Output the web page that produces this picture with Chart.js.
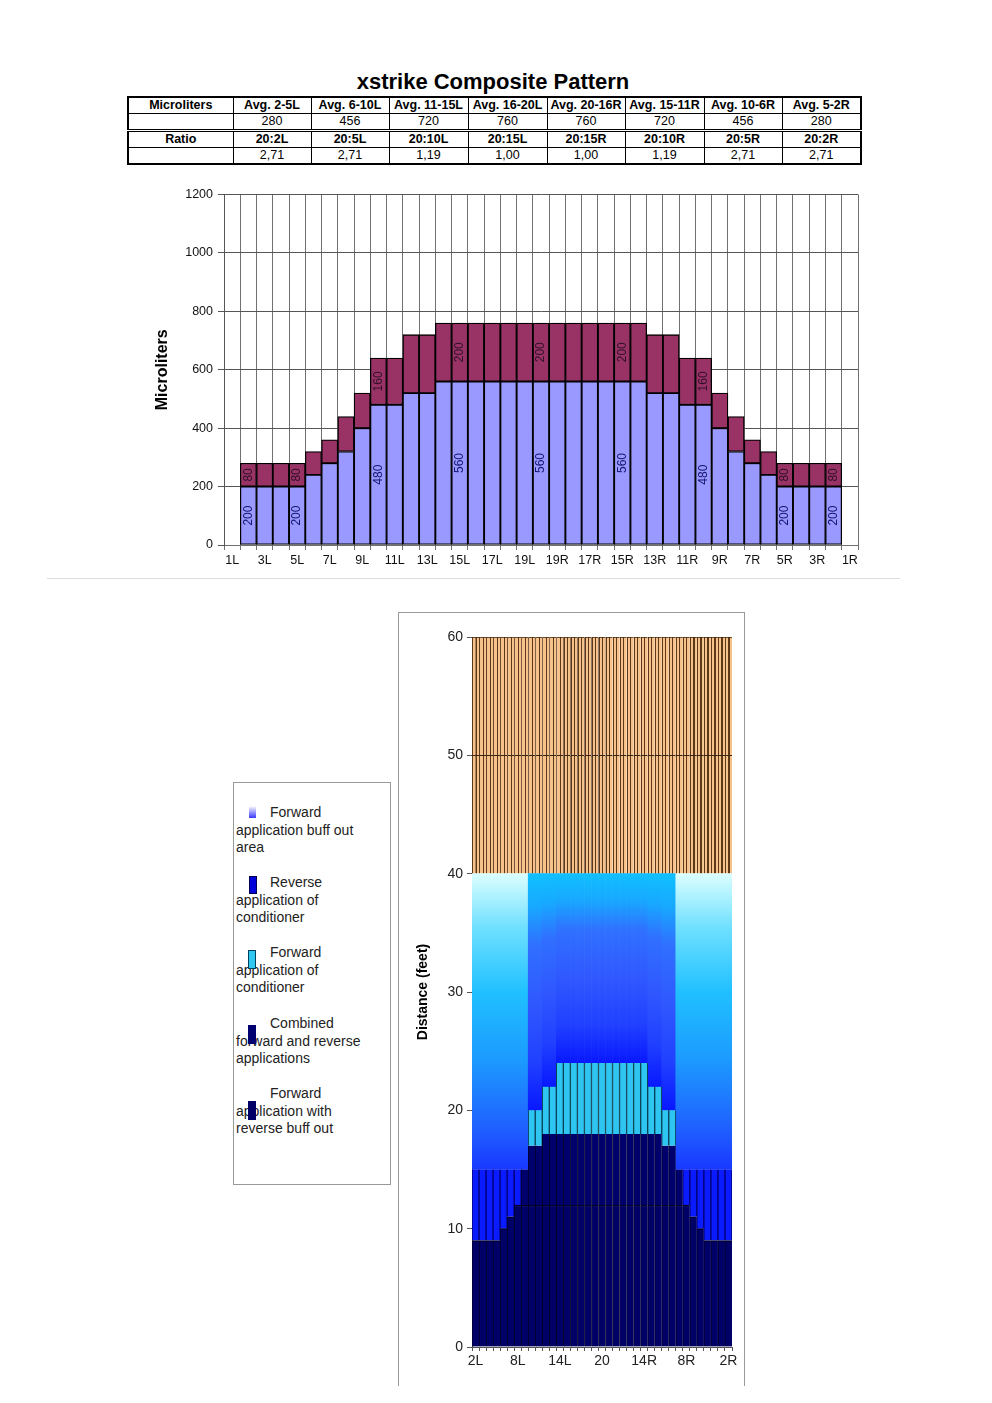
<!DOCTYPE html>
<html>
<head>
<meta charset="utf-8">
<script src="https://cdn.jsdelivr.net/npm/chart.js@4.4.1/dist/chart.umd.min.js"></script>
<style>
body { margin:0; background:#fff; font-family:"Liberation Sans", Arial, sans-serif; color:#000; }
#page { position:relative; width:992px; height:1403px; overflow:hidden; }
#title { position:absolute; left:0; width:986px; top:69px; text-align:center; font-weight:bold; font-size:22px; }
#tbl { position:absolute; left:127px; top:96px; border-collapse:collapse; table-layout:fixed; border:2px solid #000; font-size:12.5px; }
#tbl td { border:1px solid #000; text-align:center; padding:0; height:15px; line-height:15px; white-space:nowrap; }
#tbl tr.bold td { font-weight:bold; }
#tbl tr.r3 td { border-top:3px double #000; }
#sep { position:absolute; left:47px; top:578px; width:853px; height:1px; background:#ddd; }
#topChart { position:absolute; left:140px; top:182px; }
#legendBox { position:absolute; left:233px; top:782px; width:156px; height:401px; border:1px solid #999; }
.entry { position:absolute; left:2px; font-size:14px; line-height:17.5px; color:#222; }
.entry .first { padding-left:34px; }
.sw { position:absolute; width:8px; }
#box2 { position:absolute; left:398px; top:612px; width:345px; height:773px; border:1px solid #999; border-bottom:none; }
#bottomChart { position:absolute; left:400px; top:614px; }
</style>
</head>
<body>
<div id="page">
  <div id="title">xstrike Composite Pattern</div>
  <table id="tbl"></table>
  <canvas id="topChart" width="730" height="388"></canvas>
  <div id="sep"></div>

  <div id="legendBox">
    <div class="entry" style="top:21px"><div class="first">Forward</div>application buff out<br>area</div>
    <div class="entry" style="top:91px"><div class="first">Reverse</div>application of<br>conditioner</div>
    <div class="entry" style="top:161px"><div class="first">Forward</div>application of<br>conditioner</div>
    <div class="entry" style="top:232px"><div class="first">Combined</div>forward and reverse<br>applications</div>
    <div class="entry" style="top:302px"><div class="first">Forward</div>application with<br>reverse buff out</div>
  </div>
  <div class="sw" style="left:249px;top:806px;height:12px;width:7px;background:linear-gradient(#ffffff,#3838ff);"></div>
  <div class="sw" style="left:249px;top:876px;height:18px;background:#0000d8;box-shadow:inset 0 0 0 1px #000050;"></div>
  <div class="sw" style="left:248px;top:950px;height:19px;background:#30c8f0;box-shadow:inset 0 0 0 1px #004060;"></div>
  <div class="sw" style="left:248px;top:1025px;height:19px;background:#000070;"></div>
  <div class="sw" style="left:248px;top:1101px;height:19px;background:#000066;"></div>

  <div id="box2"></div>
  <canvas id="bottomChart" width="343" height="770"></canvas>
</div>

<script>
// summary table
const tableGroups = ['Avg. 2-5L','Avg. 6-10L','Avg. 11-15L','Avg. 16-20L','Avg. 20-16R','Avg. 15-11R','Avg. 10-6R','Avg. 5-2R'];
const tableAvg = ['280','456','720','760','760','720','456','280'];
const ratioLabels = ['20:2L','20:5L','20:10L','20:15L','20:15R','20:10R','20:5R','20:2R'];
const ratioValues = ['2,71','2,71','1,19','1,00','1,00','1,19','2,71','2,71'];

// top chart
const topCats = ['1L','2L','3L','4L','5L','6L','7L','8L','9L','10L','11L','12L','13L','14L','15L','16L','17L','18L','19L','20',
  '19R','18R','17R','16R','15R','14R','13R','12R','11R','10R','9R','8R','7R','6R','5R','4R','3R','2R','1R'];
const baseMicroliters = [0,200,200,200,200,240,280,320,400,480,480,520,520,
  560,560,560,560,560,560,560,560,560,560,560,560,560,
  520,520,480,480,400,320,280,240,200,200,200,200,0];
const addedMicroliters = [0,80,80,80,80,80,80,120,120,160,160,200,200,
  200,200,200,200,200,200,200,200,200,200,200,200,200,
  200,200,160,160,120,120,80,80,80,80,80,80,0];
const labelledCols = [1,4,9,14,19,24,29,34,37];

// bottom chart
const bottomCats = ['2L','3L','4L','5L','6L','7L','8L','9L','10L','11L','12L','13L','14L','15L','16L','17L','18L','19L','20',
  '19R','18R','17R','16R','15R','14R','13R','12R','11R','10R','9R','8R','7R','6R','5R','4R','3R','2R'];
const fwdRevBuffOut = [9,9,9,9,10,11,12,12,12,12,12,12,12,12,12,12,12,12,12,12,12,12,12,12,12,12,12,12,12,12,12,11,10,9,9,9,9];
const combinedFwdRev = [0,0,0,0,0,0,0,3,5,5,6,6,6,6,6,6,6,6,6,6,6,6,6,6,6,6,6,5,5,3,0,0,0,0,0,0,0];
const fwdConditioner = [0,0,0,0,0,0,0,0,3,3,4,4,6,6,6,6,6,6,6,6,6,6,6,6,6,4,4,3,3,0,0,0,0,0,0,0,0];
const revConditioner = [6,6,6,6,5,4,3,0,0,0,0,0,0,0,0,0,0,0,0,0,0,0,0,0,0,0,0,0,0,0,3,4,5,6,6,6,6];
const fwdBuffOutArea = [25,25,25,25,25,25,25,25,20,20,18,18,16,16,16,16,16,16,16,16,16,16,16,16,16,18,18,20,20,25,25,25,25,25,25,25,25];
const untreatedLow = [10,10,10,10,10,10,10,10,10,10,10,10,10,10,10,10,10,10,10,10,10,10,10,10,10,10,10,10,10,10,10,10,10,10,10,10,10];
const untreatedHigh = [10,10,10,10,10,10,10,10,10,10,10,10,10,10,10,10,10,10,10,10,10,10,10,10,10,10,10,10,10,10,10,10,10,10,10,10,10];

// build table
const tbl = document.getElementById('tbl');
const colW = [105,78,78,79,79,78,79,78,79];
let html = '<colgroup>' + colW.map(w => '<col style="width:' + w + 'px">').join('') + '</colgroup>';
html += '<tr class="bold"><td>Microliters</td>' + tableGroups.map(t => '<td>' + t + '</td>').join('') + '</tr>';
html += '<tr><td></td>' + tableAvg.map(t => '<td>' + t + '</td>').join('') + '</tr>';
html += '<tr class="bold r3"><td>Ratio</td>' + ratioLabels.map(t => '<td>' + t + '</td>').join('') + '</tr>';
html += '<tr><td></td>' + ratioValues.map(t => '<td>' + t + '</td>').join('') + '</tr>';
tbl.innerHTML = html;

Chart.defaults.font.family = '"Liberation Sans", Arial, sans-serif';
Chart.defaults.color = '#000';

const segLabels = {
  id: 'segLabels',
  afterDatasetsDraw(chart) {
    const ctx = chart.ctx;
    const colors = ['#14146e', '#30102a'];
    chart.data.datasets.forEach((ds, di) => {
      const meta = chart.getDatasetMeta(di);
      labelledCols.forEach(i => {
        const bar = meta.data[i];
        if (!bar) return;
        ctx.save();
        ctx.translate(bar.x, (bar.y + bar.base) / 2);
        ctx.rotate(-Math.PI / 2);
        ctx.font = '12px "Liberation Sans", Arial';
        ctx.fillStyle = colors[di];
        ctx.textAlign = 'center';
        ctx.textBaseline = 'middle';
        ctx.fillText(String(ds.data[i]), 0, 0);
        ctx.restore();
      });
    });
  }
};

new Chart(document.getElementById('topChart'), {
  type: 'bar',
  data: {
    labels: topCats,
    datasets: [
      { data: baseMicroliters, backgroundColor: '#9999ff', borderColor: '#000', borderWidth: 1.3, borderSkipped: false, categoryPercentage: 1, barPercentage: 1 },
      { data: addedMicroliters, backgroundColor: '#993366', borderColor: '#000', borderWidth: 1.3, borderSkipped: false, categoryPercentage: 1, barPercentage: 1 }
    ]
  },
  options: {
    responsive: false,
    animation: false,
    layout: { padding: { top: 6, right: 12, left: 0, bottom: 0 } },
    plugins: { legend: { display: false }, tooltip: { enabled: false } },
    scales: {
      x: {
        stacked: true,
        grid: { color: '#707070', tickLength: 5, offset: true },
        border: { color: '#707070' },
        ticks: { autoSkip: false, maxRotation: 0, padding: 3, font: { size: 12.5 }, color: '#111',
          callback: (v, i) => i % 2 === 0 ? topCats[i] : '' },
        afterFit: s => { s.height = 25; }
      },
      y: {
        stacked: true, min: 0, max: 1200,
        ticks: { stepSize: 200, padding: 5, font: { size: 12.5 }, color: '#111', callback: v => String(v) },
        grid: { color: '#555', tickLength: 6 },
        border: { color: '#555' },
        title: { display: true, text: 'Microliters', font: { size: 16, weight: 'bold' }, padding: { top: 13, bottom: 0 } },
        afterFit: s => { s.width = 84; }
      }
    }
  },
  plugins: [segLabels]
});

// vertical gradient per bar, from its top down to its base
function buffGradient(c) {
  const chart = c.chart;
  if (!chart.chartArea) return '#20a0ff';
  const i = c.dataIndex;
  let base = 0;
  for (let d = 0; d < c.datasetIndex; d++) base += chart.data.datasets[d].data[i];
  const top = base + chart.data.datasets[c.datasetIndex].data[i];
  const y = chart.scales.y;
  const g = chart.ctx.createLinearGradient(0, y.getPixelForValue(top), 0, y.getPixelForValue(base));
  if (base < 16) {
    g.addColorStop(0, '#dcffff');
    g.addColorStop(0.18, '#70e0ff');
    g.addColorStop(0.4, '#20c0ff');
    g.addColorStop(0.63, '#1c9aff');
    g.addColorStop(0.86, '#2060ff');
    g.addColorStop(1, '#1838ff');
  } else {
    g.addColorStop(0, '#10c0ff');
    g.addColorStop(0.14, '#18a8ff');
    g.addColorStop(0.3, '#3070ff');
    g.addColorStop(0.55, '#3058ff');
    g.addColorStop(0.8, '#2040ff');
    g.addColorStop(1, '#0818ff');
  }
  return g;
}

// thin vertical stripes over the untreated area
function tanStripes(c) {
  const chart = c.chart;
  const area = chart.chartArea;
  if (!area) return '#f4c08a';
  const n = chart.data.labels.length * 2;
  const g = chart.ctx.createLinearGradient(area.left, 0, area.right, 0);
  const w = 0.33 / n;
  for (let j = 0; j < n; j++) {
    const a = j / n;
    g.addColorStop(a, '#5e3818');
    g.addColorStop(a + w, '#5e3818');
    g.addColorStop(a + w, '#f6c28c');
    g.addColorStop((j + 1) / n - 0.0001, '#f6c28c');
  }
  g.addColorStop(1, '#5e3818');
  return g;
}

const barBase = { categoryPercentage: 1, barPercentage: 1 };

new Chart(document.getElementById('bottomChart'), {
  type: 'bar',
  data: {
    labels: bottomCats,
    datasets: [
      { ...barBase, label: 'Forward application with reverse buff out', data: fwdRevBuffOut, backgroundColor: '#000066',
        borderColor: '#00002a', borderWidth: { top: 1.5, left: 1, right: 0, bottom: 0 } },
      { ...barBase, label: 'Combined forward and reverse applications', data: combinedFwdRev, backgroundColor: '#00006c',
        borderColor: '#00002e', borderWidth: { top: 0, left: 1, right: 0, bottom: 0 } },
      { ...barBase, label: 'Forward application of conditioner', data: fwdConditioner, backgroundColor: '#2ec6f0',
        borderColor: '#0a4058', borderWidth: { top: 0, left: 1, right: 1, bottom: 0 } },
      { ...barBase, label: 'Reverse application of conditioner', data: revConditioner, backgroundColor: '#0a1cff',
        borderColor: '#000070', borderWidth: { top: 0, left: 1, right: 1, bottom: 0 } },
      { ...barBase, label: 'Forward application buff out area', data: fwdBuffOutArea, backgroundColor: buffGradient, borderWidth: 0 },
      { ...barBase, data: untreatedLow, backgroundColor: tanStripes, borderColor: '#3a2410', borderWidth: { top: 1, left: 0, right: 0, bottom: 0 } },
      { ...barBase, data: untreatedHigh, backgroundColor: tanStripes, borderColor: '#3a2410', borderWidth: { top: 1, left: 0, right: 0, bottom: 0 } }
    ]
  },
  options: {
    responsive: false,
    animation: false,
    layout: { padding: { top: 23, right: 11, left: 0, bottom: 0 } },
    plugins: { legend: { display: false }, tooltip: { enabled: false } },
    scales: {
      x: {
        stacked: true,
        grid: { drawOnChartArea: false, color: '#555', tickLength: 4, offset: true },
        border: { color: '#555' },
        ticks: { autoSkip: false, maxRotation: 0, padding: 2, font: { size: 14 }, color: '#222',
          callback: (v, i) => i % 6 === 0 ? bottomCats[i] : '' },
        afterFit: s => { s.height = 37; }
      },
      y: {
        stacked: true, min: 0, max: 60,
        ticks: { stepSize: 10, padding: 4, font: { size: 14 }, color: '#222' },
        grid: { drawOnChartArea: false, color: '#555', tickLength: 5 },
        border: { color: '#555' },
        title: { display: true, text: 'Distance (feet)', font: { size: 14, weight: 'bold' }, padding: { top: 14.6, bottom: 0 } },
        afterFit: s => { s.width = 72; }
      }
    }
  }
});
</script>
</body>
</html>
